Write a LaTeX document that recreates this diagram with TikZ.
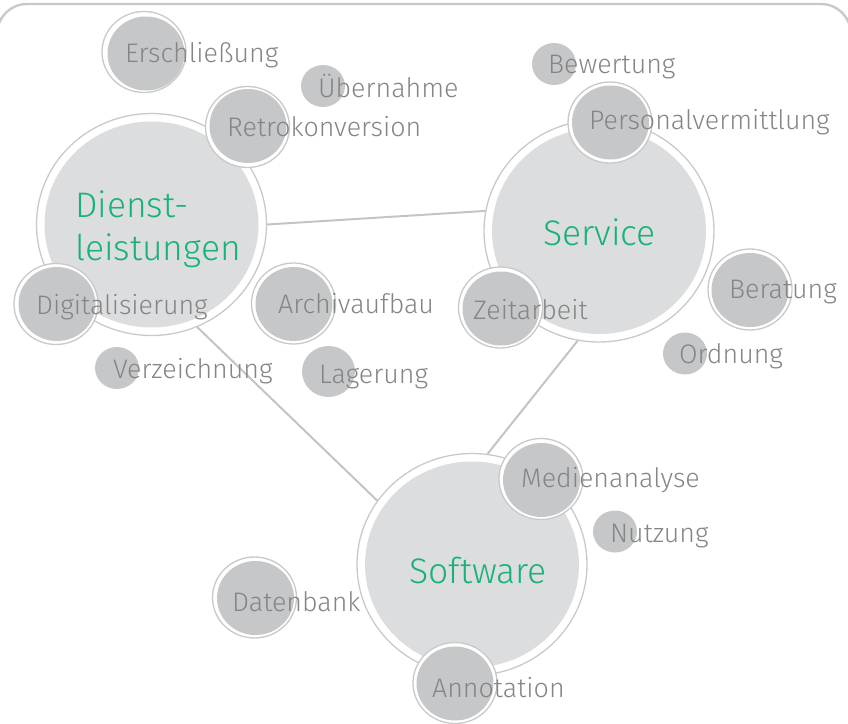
\documentclass[tikz,border=0pt]{standalone}
\usepackage{fontspec}
\setmainfont{Fira Sans Light}
\usetikzlibrary{shapes.geometric}
\definecolor{ringc}{HTML}{C9C9C9}
\definecolor{bigc}{HTML}{DCDDDF}
\definecolor{corec}{HTML}{C6C7C9}
\definecolor{labc}{HTML}{858585}
\definecolor{headc}{HTML}{17B27A}
\definecolor{linkc}{HTML}{C4C4C4}
\tikzset{
  x=1pt, y=-1pt,
  bigring/.style={ellipse, draw=ringc, line width=1.3pt, inner sep=0pt,
    minimum width=230pt, minimum height=222pt},
  bigcore/.style={ellipse, fill=bigc, inner sep=0pt,
    minimum width=214pt, minimum height=206pt},
  smallring/.style={ellipse, draw=ringc, line width=1.3pt, fill=white, inner sep=0pt,
    minimum width=84pt, minimum height=81pt},
  smallcore/.style={ellipse, fill=corec, inner sep=0pt,
    minimum width=77pt, minimum height=74pt},
  dot/.style={ellipse, fill=corec, inner sep=0pt,
    minimum width=44pt, minimum height=42pt},
  term/.style={anchor=base west, inner sep=0pt, text=labc, font=\fontsize{26.8}{30}\selectfont},
  head/.style={anchor=base west, inner sep=0pt, text=headc, font=\fontsize{35.5}{40}\selectfont},
  link/.style={draw=linkc, line width=2pt}
}
\begin{document}
\begin{tikzpicture}
\useasboundingbox (0,0) rectangle (848,723);
% frame
\draw[ringc, line width=2.4pt, rounded corners=30pt] (-3,800) -- (-3,4) -- (851,4) -- (851,800);

% three main topics
\node[bigcore] (dlcore) at (151.5,224.5) {};
\node[bigring] (dl) at (151.5,224.5) {};
\node[bigcore] (svcore) at (599,231) {};
\node[bigring] (sv) at (599,231) {};
\node[bigcore] (swcore) at (472,564.5) {};
\node[bigring] (sw) at (472,564.5) {};

% links between the topics
\draw[link] (dl.0) -- (sv.170);
\draw[link] (dl.-66) -- (sw.146);
\draw[link] (sv.-101.5) -- (sw.82.4);

% ringed sub-topics
\node[smallring] (r1) at (144,52) {};     \node[smallcore] (c1) at (146,53.5) {};
\node[smallring] (r2) at (247.5,127) {};  \node[smallcore] (c2) at (248,126) {};
\node[smallring] (r3) at (56,304) {};     \node[smallcore] (c3) at (57,304) {};
\node[smallring] (r4) at (293.5,303.5) {};\node[smallcore] (c4) at (294,304) {};
\node[smallring] (r5) at (500.5,307.5) {};\node[smallcore] (c5) at (501,308.5) {};
\node[smallring] (r6) at (610,122.5) {};  \node[smallcore] (c6) at (610.5,122.5) {};
\node[smallring] (r7) at (750,289.5) {};  \node[smallcore] (c7) at (750,290) {};
\node[smallring] (r8) at (541,479) {};    \node[smallcore] (c8) at (541.5,480) {};
\node[smallring] (r9) at (254.5,597.5) {};\node[smallcore] (c9) at (255.5,598) {};
\node[smallring] (r10) at (455,683) {};   \node[smallcore] (c10) at (455,683.5) {};

% plain dots
\node[dot] (d1) at (323,86) {};
\node[dot] (d2) at (554,64) {};
\node[dot] (d3) at (685,353.5) {};
\node[dot] (d4) at (117,368) {};
\node[dot, minimum width=53pt, minimum height=51pt] (d5) at (328.5,371.5) {};
\node[dot] (d6) at (615,531.5) {};

% labels
\node[term] (t1) at (125,62) {Erschließung};
\node[term] (t2) at (227,136) {Retrokonversion};
\node[term] (t3) at (36,314) {Digitalisierung};
\node[term] (t4) at (278,313) {Archivaufbau};
\node[term] (t5) at (473,319) {Zeitarbeit};
\node[term] (t6) at (589,129) {Personalvermittlung};
\node[term] (t7) at (729,298) {Beratung};
\node[term] (t8) at (521,487) {Medienanalyse};
\node[term] (t9) at (232,611) {Datenbank};
\node[term] (t10) at (432,697) {Annotation};
\node[term] (t11) at (318,97) {Übernahme};
\node[term] (t12) at (548,73) {Bewertung};
\node[term] (t13) at (679,363) {Ordnung};
\node[term] (t14) at (113,378) {Verzeichnung};
\node[term] (t15) at (319,383) {Lagerung};
\node[term] (t16) at (610,542) {Nutzung};

\node[head] (h1) at (75,217) {Dienst-};
\node[head] (h2) at (75,260) {leistungen};
\node[head] (h3) at (543,245) {Service};
\node[head] (h4) at (409,583) {Software};
\end{tikzpicture}
\end{document}
